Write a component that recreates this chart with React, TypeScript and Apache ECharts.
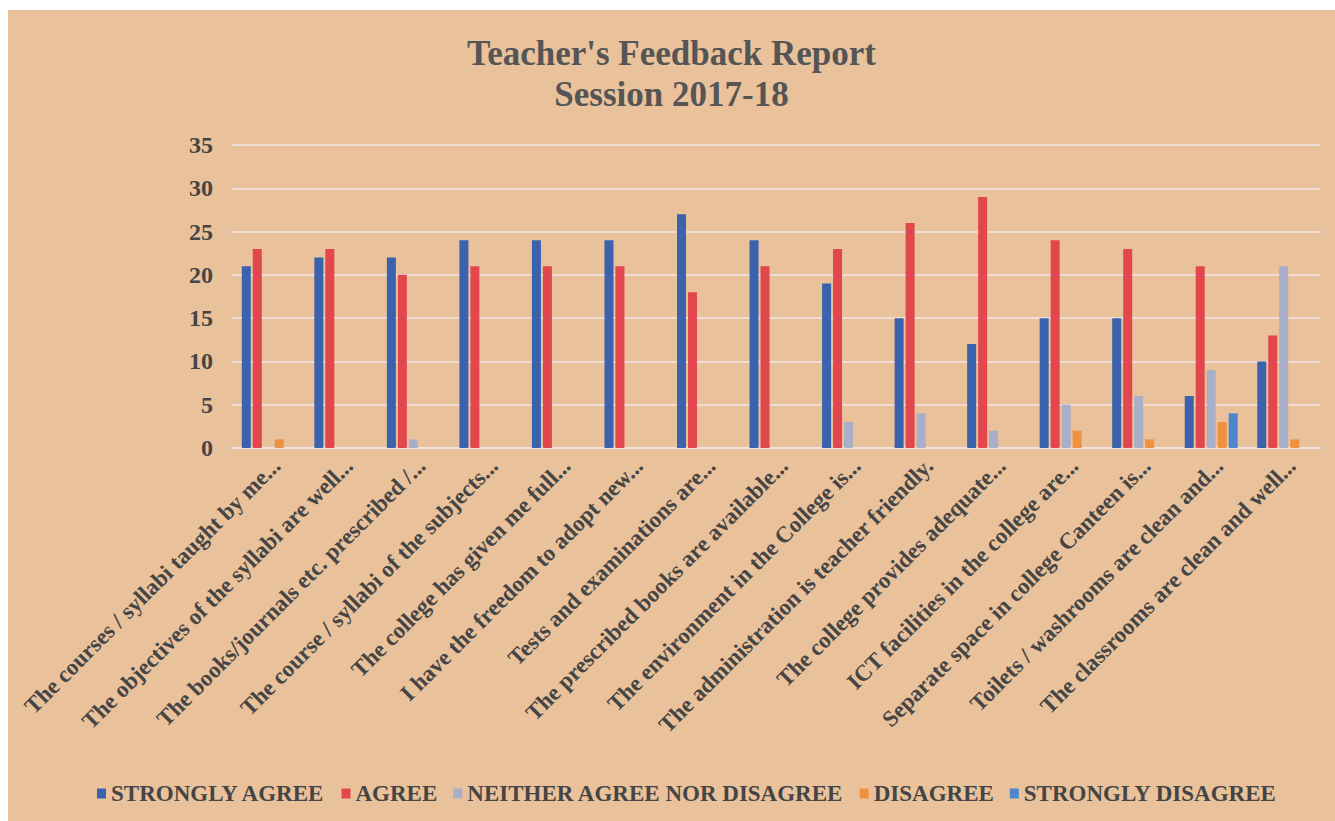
import React, { useEffect, useRef } from "react";
import * as echarts from "echarts";

const categories = [
  "The courses / syllabi taught by me...",
  "The objectives of the syllabi are well...",
  "The books/journals etc. prescribed /...",
  "The course / syllabi of the subjects...",
  "The college has given me full...",
  "I have the freedom to adopt new...",
  "Tests and examinations are...",
  "The prescribed books are available...",
  "The environment in the College is...",
  "The administration is teacher friendly.",
  "The college provides adequate...",
  "ICT facilities in the college are...",
  "Separate space in college Canteen is...",
  "Toilets / washrooms are clean and...",
  "The classrooms are clean and well...",
];

const stronglyAgree = [21, 22, 22, 24, 24, 24, 27, 24, 19, 15, 12, 15, 15, 6, 10];
const agree = [23, 23, 20, 21, 21, 21, 18, 21, 23, 26, 29, 24, 23, 21, 13];
const neither = [0, 0, 1, 0, 0, 0, 0, 0, 3, 4, 2, 5, 6, 9, 21];
const disagree = [1, 0, 0, 0, 0, 0, 0, 0, 0, 0, 0, 2, 1, 3, 1];
const stronglyDisagree = [0, 0, 0, 0, 0, 0, 0, 0, 0, 0, 0, 0, 0, 4, 0];

const seriesNames = [
  "STRONGLY AGREE",
  "AGREE",
  "NEITHER AGREE NOR DISAGREE",
  "DISAGREE",
  "STRONGLY DISAGREE",
];
const seriesData = [stronglyAgree, agree, neither, disagree, stronglyDisagree];
const seriesColors = ["#3B63AD", "#E2474E", "#A8AFC6", "#EE9140", "#4D86CB"];

const titleLine1 = "Teacher's Feedback Report";
const titleLine2 = "Session 2017-18";
const FONT = "Liberation Serif";

export default function App() {
  const ref = useRef<HTMLDivElement>(null);
  useEffect(() => {
    if (!ref.current) return;
    const chart = echarts.init(ref.current, null, { renderer: "svg" });
    const titleStyle = {
      fontFamily: FONT,
      fontWeight: "bold",
      fontSize: 35,
      color: "#555555",
    };
    const legendText = {
      fontFamily: FONT,
      fontWeight: "bold",
      fontSize: 23,
      color: "#454545",
    };
    chart.setOption({
      animation: false,
      backgroundColor: "#E9C19B",
      textStyle: { fontFamily: FONT },
      title: [
        { text: titleLine1, left: "center", top: 21, textStyle: titleStyle },
        { text: titleLine2, left: "center", top: 62, textStyle: titleStyle },
      ],
      legend: {
        data: seriesNames,
        top: 767,
        left: 84,
        itemWidth: 9,
        itemHeight: 10,
        itemGap: 16,
        icon: "rect",
        formatter: "{a|{name}}",
        textStyle: {
          ...legendText,
          rich: { a: legendText },
        },
      },
      grid: {
        left: 224,
        right: 15,
        top: 135,
        bottom: 373,
        containLabel: false,
      },
      xAxis: {
        type: "category",
        data: categories,
        axisLine: { lineStyle: { color: "#F2E6EA", width: 1.5 } },
        axisTick: { show: false },
        axisLabel: {
          rotate: 45,
          interval: 0,
          margin: 6,
          verticalAlign: "top",
          fontFamily: FONT,
          fontWeight: "bold",
          fontSize: 23,
          color: "#454545",
        },
      },
      yAxis: {
        type: "value",
        min: 0,
        max: 35,
        interval: 5,
        axisLine: { show: false },
        axisTick: { show: false },
        splitLine: { lineStyle: { color: "#F2E6EA", width: 1.5 } },
        axisLabel: {
          margin: 19,
          fontFamily: FONT,
          fontWeight: "bold",
          fontSize: 24,
          color: "#454545",
        },
      },
      series: seriesNames.map((name, i) => ({
        name,
        type: "bar",
        data: seriesData[i],
        barWidth: 9,
        barGap: "22%",
        itemStyle: { color: seriesColors[i] },
      })),
    });
    return () => chart.dispose();
  }, []);
  return (
    <div
      ref={ref}
      style={{ position: "absolute", left: 8, top: 10, width: 1327, height: 811 }}
    />
  );
}
